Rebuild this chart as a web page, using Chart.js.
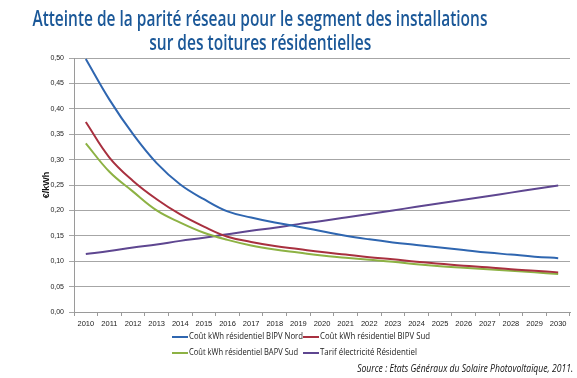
<!DOCTYPE html>
<html>
<head>
<meta charset="utf-8">
<script src="https://cdn.jsdelivr.net/npm/chart.js@4.4.1/dist/chart.umd.min.js"></script>
<style>
  html, body { margin:0; padding:0; background:#fff; }
  #wrap { position:relative; width:577px; height:378px; overflow:hidden; }
  #c { position:absolute; left:0; top:0; }
  .title { position:absolute; left:-240px; width:1000px; text-align:center; color:#1b5898;
           font-family:"Open Sans",sans-serif; font-size:21px; font-weight:600; white-space:nowrap; line-height:24px; }
  .title span { display:inline-block; transform-origin:center center; }
  #legend { position:absolute; left:0; top:0; width:577px; height:378px; pointer-events:none;
            font-family:"Open Sans",sans-serif; font-size:8.5px; color:#222; }
  .li { position:absolute; white-space:nowrap; line-height:10px; }
  .li i { position:absolute; left:0; top:5px; width:16px; height:2px; }
  .li span { position:absolute; left:17px; top:0; display:inline-block; transform-origin:left center; }
  #src { position:absolute; right:4px; top:361px; font-family:"Open Sans",sans-serif;
         font-style:italic; font-size:10.5px; color:#111; white-space:nowrap; transform-origin:right center; }
</style>
</head>
<body>
<div id="wrap">
  <canvas id="c" width="577" height="378"></canvas>
  <div class="title" style="top:6px;"><span id="t1">Atteinte de la parité réseau pour le segment des installations</span></div>
  <div class="title" style="top:30px;"><span id="t2">sur des toitures résidentielles</span></div>
  <div id="legend"></div>
  <div id="src">Source : Etats Généraux du Solaire Photovoltaïque, 2011.</div>
</div>
<script>
const years = ['2010','2011','2012','2013','2014','2015','2016','2017','2018','2019','2020',
               '2021','2022','2023','2024','2025','2026','2027','2028','2029','2030'];
const bipvNord = [0.498,0.418,0.350,0.293,0.251,0.222,0.198,0.186,0.176,0.168,0.159,
                  0.150,0.143,0.137,0.132,0.127,0.122,0.117,0.113,0.109,0.106];
const bipvSud  = [0.374,0.304,0.258,0.222,0.192,0.168,0.148,0.138,0.130,0.124,0.118,
                  0.113,0.108,0.104,0.099,0.095,0.091,0.088,0.084,0.081,0.078];
const bapvSud  = [0.332,0.276,0.237,0.200,0.176,0.156,0.142,0.131,0.123,0.117,0.111,
                  0.107,0.103,0.099,0.094,0.090,0.087,0.084,0.081,0.078,0.075];
const tarif    = [0.114,0.120,0.127,0.133,0.140,0.146,0.153,0.160,0.166,0.173,0.179,
                  0.186,0.193,0.200,0.207,0.214,0.221,0.228,0.235,0.242,0.249];
const seriesNames = ['Coût kWh résidentiel BIPV Nord','Coût kWh résidentiel BIPV Sud',
                     'Coût kWh résidentiel BAPV Sud','Tarif électricité Résidentiel'];
const seriesColors = ['#2f66b0','#a8303f','#8db244','#5e4690'];
const yAxisTitle = '€/kWh';

const seriesData = [bipvNord, bipvSud, bapvSud, tarif];
const datasets = seriesData.map((d,i) => ({
  label: seriesNames[i], data: d, borderColor: seriesColors[i], backgroundColor: seriesColors[i],
  borderWidth: 2, pointRadius: 0, tension: 0.4, fill: false
}));

const chart = new Chart(document.getElementById('c'), {
  type: 'line',
  data: { labels: years, datasets },
  options: {
    responsive: false, animation: false, devicePixelRatio: 1,
    layout: { padding: { top: 58, right: 7, bottom: 46, left: 0 } },
    plugins: { legend: { display: false }, title: { display: false }, tooltip: { enabled: false } },
    scales: {
      x: {
        type: 'category', offset: true,
        grid: { offset: true, drawOnChartArea: false, drawTicks: true, tickLength: 4, color: '#9a9a9a' },
        border: { color: '#9a9a9a', width: 1 },
        ticks: { color: '#222', font: { family: 'Liberation Sans', size: 7.5 }, padding: 3, maxRotation: 0, autoSkip: false },
        afterFit: s => { s.height = 20; }
      },
      y: {
        min: 0, max: 0.5,
        grid: { color: '#a6a6a6', lineWidth: 1, tickLength: 5 },
        border: { color: '#9a9a9a', width: 1 },
        ticks: { stepSize: 0.05, color: '#222', font: { family: 'Liberation Sans', size: 7 }, padding: 5,
                 callback: v => Number(v).toFixed(2).replace('.', ',') },
        title: { display: true, text: yAxisTitle, color: '#111',
                 font: { family: 'Liberation Sans', size: 9, weight: 'bold' }, padding: { top: 41, bottom: 0 } },
        afterFit: s => { s.width = 74; }
      }
    }
  }
});

// legend from chart datasets, in a 2x2 grid
const leg = document.getElementById('legend');
const cols = [172, 303], rows = [331, 347];
const legendWidths = [114, 110, 109, 97];
chart.data.datasets.forEach((ds, i) => {
  const d = document.createElement('div');
  d.className = 'li';
  d.style.left = cols[i % 2] + 'px';
  d.style.top = rows[Math.floor(i / 2)] + 'px';
  d.innerHTML = '<i style="background:' + ds.borderColor + '"></i><span></span>';
  const sp = d.querySelector('span');
  sp.textContent = ds.label;
  leg.appendChild(d);
  const w = sp.getBoundingClientRect().width;
  sp.style.transform = 'scaleX(' + (legendWidths[i] / w) + ')';
});

function fit(id, target) {
  const el = document.getElementById(id);
  const w = el.getBoundingClientRect().width;
  el.style.transform = 'scaleX(' + (target / w) + ')';
}
fit('t1', 455); fit('t2', 222); fit('src', 216);
</script>
</body>
</html>
